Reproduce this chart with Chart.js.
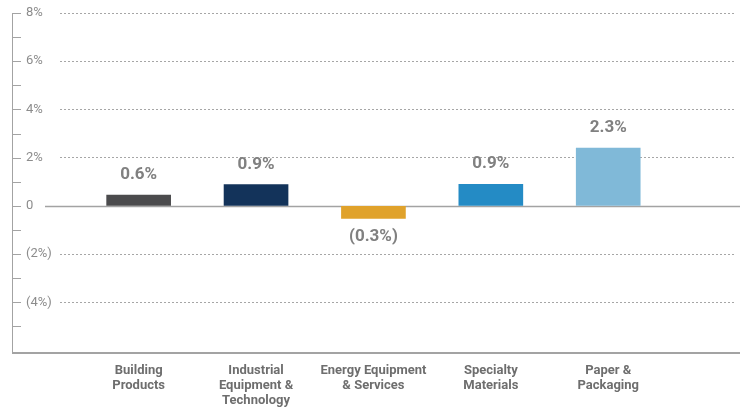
<!DOCTYPE html>
<html>
<head>
<meta charset="utf-8">
<script src="https://cdn.jsdelivr.net/npm/chart.js@4"></script>
<style>
  body { margin: 0; background: #fff; }
  canvas { display: block; }
</style>
</head>
<body>
<canvas id="chart" width="747" height="408"></canvas>
<script>
// data
const categories = [
  ["Building", "Products"],
  ["Industrial", "Equipment &", "Technology"],
  ["Energy Equipment", "& Services"],
  ["Specialty", "Materials"],
  ["Paper &", "Packaging"]
];
const values = [0.45, 0.88, -0.52, 0.9, 2.4];
const valueLabels = ["0.6%", "0.9%", "(0.3%)", "0.9%", "2.3%"];
const barColors = ["#4b4b4d", "#13335a", "#e0a22b", "#248bc5", "#80b9d8"];
const yTickValues = [8, 7, 6, 5, 4, 3, 2, 1, 0, -1, -2, -3, -4, -5];
const yTickLabels = { 8: "8%", 6: "6%", 4: "4%", 2: "2%", 0: "0", "-2": "(2%)", "-4": "(4%)" };

const AXIS_GREY = "#a3a3a3";

// left axis line, tick marks, zero line and bottom line
const axisLines = {
  id: "axisLines",
  beforeDatasetsDraw(chart) {
    const { ctx, scales } = chart;
    const y0 = Math.round(scales.y.getPixelForValue(0)) + 0.5;
    ctx.save();
    ctx.strokeStyle = AXIS_GREY;
    ctx.lineWidth = 1.5;
    ctx.beginPath();
    ctx.moveTo(45, y0);
    ctx.lineTo(740, y0);
    ctx.stroke();
    ctx.restore();
  },
  afterDraw(chart) {
    const { ctx, chartArea, scales } = chart;
    const y = scales.y;
    ctx.save();
    ctx.strokeStyle = AXIS_GREY;
    ctx.lineWidth = 1;
    ctx.beginPath();
    ctx.moveTo(12.5, chartArea.top);
    ctx.lineTo(12.5, chartArea.bottom);
    yTickValues.forEach(v => {
      const py = Math.round(y.getPixelForValue(v)) + 0.5;
      ctx.moveTo(12, py);
      ctx.lineTo(21, py);
    });
    ctx.stroke();
    ctx.lineWidth = 2;
    ctx.beginPath();
    ctx.moveTo(12, chartArea.bottom);
    ctx.lineTo(740, chartArea.bottom);
    ctx.stroke();
    ctx.restore();
  }
};

// value labels above / below bars
const barLabels = {
  id: "barLabels",
  afterDatasetsDraw(chart) {
    const { ctx } = chart;
    const meta = chart.getDatasetMeta(0);
    ctx.save();
    ctx.font = "bold 17px Roboto, 'Liberation Sans', sans-serif";
    ctx.fillStyle = "#808080";
    ctx.textAlign = "center";
    ctx.textBaseline = "middle";
    meta.data.forEach((bar, i) => {
      const off = values[i] >= 0 ? -20 : 18;
      ctx.fillText(valueLabels[i], bar.x, bar.y + off);
    });
    ctx.restore();
  }
};

new Chart(document.getElementById("chart"), {
  type: "bar",
  data: {
    datasets: [{
      data: values.map((v, i) => ({ x: i + 1, y: v })),
      backgroundColor: barColors,
      barThickness: 64,
      borderWidth: 0
    }]
  },
  options: {
    responsive: false,
    animation: false,
    layout: { padding: { left: 26, right: 12, top: 13, bottom: 0 } },
    plugins: { legend: { display: false }, tooltip: { enabled: false } },
    scales: {
      x: {
        type: "linear",
        offset: false,
        min: 0.33,
        max: 6.08,
        grid: { display: false },
        border: { display: false },
        afterBuildTicks: s => { s.ticks = categories.map((c, i) => ({ value: i + 1 })); },
        afterFit: s => { s.height = 55; },
        ticks: {
          autoSkip: false,
          maxRotation: 0,
          padding: 2,
          color: "#6e6e6e",
          font: { family: "Roboto, 'Liberation Sans', sans-serif", size: 13, weight: "bold", lineHeight: 1.15 },
          callback: v => categories[v - 1] || ""
        }
      },
      y: {
        min: -6.1,
        max: 8,
        afterBuildTicks: s => { s.ticks = yTickValues.map(v => ({ value: v })); },
        afterFit: s => { s.width = 34; },
        border: { display: false, dash: [2, 2] },
        grid: {
          drawTicks: false,
          lineWidth: 1,
          color: c => (c.tick.value % 2 === 0 && c.tick.value !== 0) ? "#a6a6a6" : "rgba(0,0,0,0)"
        },
        ticks: {
          crossAlign: "far",
          padding: 0,
          color: "#8c8c8c",
          font: { family: "Roboto, 'Liberation Sans', sans-serif", size: 13 },
          callback: v => yTickLabels[v] || ""
        }
      }
    }
  },
  plugins: [axisLines, barLabels]
});
</script>
</body>
</html>
